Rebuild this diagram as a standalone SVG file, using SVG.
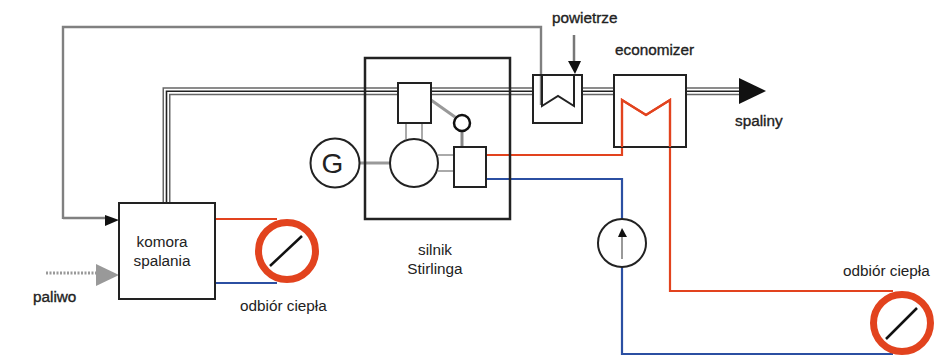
<svg xmlns="http://www.w3.org/2000/svg" width="935" height="356" viewBox="0 0 935 356">
<style>
text{font-family:"Liberation Sans",Arial,sans-serif;font-size:15.300px;fill:#222}
.h{stroke:#222;stroke-width:.35}
.b{fill:#fff;stroke:#222;stroke-width:2}
.n{fill:none;stroke:#222;stroke-width:2}
.g{fill:none;stroke:#808080;stroke-width:2.400}
.f1{fill:none;stroke:#666;stroke-width:8}
.f2{fill:none;stroke:#fff;stroke-width:5}
.f3{fill:none;stroke:#222;stroke-width:1.600}
.r{fill:none;stroke:#e2431e;stroke-width:2.200}
.u{fill:none;stroke:#2b4fa2;stroke-width:2.200}
.ring{fill:#fff;stroke:#e2431e;stroke-width:7}
</style>
<defs>
<path id="flue" d="M166.500 204V91.300H398M431 91.300H533M582 91.300H614M686 91.300H741"/>
</defs>
<rect width="935" height="356" fill="#fff"/>
<g id="connectors">
<use href="#flue" class="f1"/>
<use href="#flue" class="f2"/>
<use href="#flue" class="f3"/>
<path class="g" d="M63 218H106M63 219V27H541V105"/>
<path d="M46 273H97" fill="none" stroke="#999" stroke-width="3" stroke-dasharray="2 1.500"/>
<polygon points="105,215 119,220 105,226" fill="#111"/>
<polygon points="96,264 119,275 96,286" fill="#999"/>
<path d="M574 35V62" fill="none" stroke="#777" stroke-width="2.500"/>
<polygon points="568,61 581,61 575,74" fill="#111"/>
<polygon points="739,78 766,91 739,104" fill="#111"/>
<path class="r" d="M215 219H277"/>
<path class="u" d="M215 283H277"/>
<path class="r" d="M486 155H622V100L646 115L670 100V291H893"/>
<path class="u" d="M486 179H622V354H893"/>
<path d="M359 163H390" fill="none" stroke="#999" stroke-width="3"/>
<path d="M406 123V139M422 123V139M438 155H454M438 171H454" fill="none" stroke="#aaa" stroke-width="2"/>
<path d="M431 100L455 117" fill="none" stroke="#999" stroke-width="3"/>
<path d="M462 131V147" fill="none" stroke="#888" stroke-width="3"/>
</g>
<g id="stirling"><rect x="365" y="58" width="145" height="161" fill="none" stroke="#222" stroke-width="2.500"/></g>
<g id="heater-box"><rect x="398" y="83" width="33" height="40" class="b"/></g>
<g id="engine"><circle cx="414" cy="163" r="24" class="b"/></g>
<g id="cooler"><rect x="454" y="147" width="32" height="40" class="b"/></g>
<g id="small-circle"><circle cx="462" cy="123" r="8" fill="#fff" stroke="#111" stroke-width="2.500"/></g>
<g id="generator"><circle cx="335" cy="163" r="24.500" class="b"/><text x="332.500" y="173" text-anchor="middle" style="font-size:28px">G</text></g>
<g id="air-heater"><rect x="533" y="75" width="49" height="48" class="n"/><path class="n" d="M542 75V106L558 96L574 106V74"/></g>
<g id="economizer"><rect x="614" y="75" width="72" height="72" class="n"/><path class="r" d="M622 147V100L646 115L670 100V147"/></g>
<g id="combustion"><rect x="119" y="203" width="96" height="96" class="b"/><text x="162" y="247" text-anchor="middle">komora</text><text x="162" y="266" text-anchor="middle">spalania</text></g>
<g id="heat-1"><circle cx="287" cy="251" r="28.500" class="ring"/><path d="M270 266L302 236" stroke="#111" stroke-width="2.500"/></g>
<g id="heat-2"><circle cx="902" cy="323" r="28.500" class="ring"/><path d="M886 339L917 308" stroke="#111" stroke-width="2.500"/></g>
<g id="pump"><circle cx="622" cy="243" r="24" class="b"/><path d="M622 259V235" stroke="#555" stroke-width="1.200"/><polygon points="622,228 627,237 618,237" fill="#111"/></g>
<g id="labels">
<text x="552" y="23" class="h">powietrze</text>
<text x="615" y="55" class="h">economizer</text>
<text x="735" y="126" class="h">spaliny</text>
<text x="435" y="255" text-anchor="middle">silnik</text>
<text x="435" y="274" text-anchor="middle">Stirlinga</text>
<text x="33" y="302" class="h">paliwo</text>
<text x="240" y="311">odbiór ciepła</text>
<text x="843" y="276">odbiór ciepła</text>
</g>
</svg>
